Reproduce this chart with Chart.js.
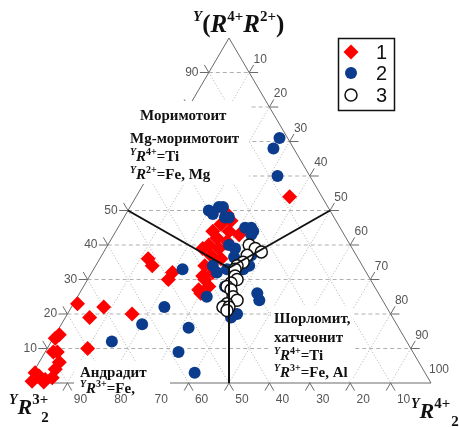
<!DOCTYPE html>
<html>
<head>
<meta charset="utf-8">
<script src="https://cdn.jsdelivr.net/npm/chart.js@4"></script>
<style>
  body { margin: 0; background: #fff; }
  #wrap { width: 459px; height: 427px; }
</style>
</head>
<body>
<div id="wrap"><canvas id="tern" width="459" height="427"></canvas></div>
<script>
// ternary values, % : top = Y(R4+R2+), right = YR4+2, left = YR3+2 = 100 - top - right
const s1Top   = [54, 49, 47, 46, 44, 43, 42, 41, 40, 39, 39, 37, 36, 34, 32, 31, 30, 28, 27, 26, 44,
                 36, 34, 32, 30, 23, 22, 19, 20, 14, 13, 10, 9, 9, 6, 4, 3, 2, 0.5, 1, 1.5, 0.3];
const s1Right = [38, 25, 27, 25, 28, 31, 26, 29, 25, 28, 24, 27, 30, 27, 30, 28, 29, 31, 29, 30, 24,
                 12, 14, 20, 20, 1, 8, 6, 16, 1, 0.5, 10, 2, 3, 5, 5, 0.5, 2, 1, 4, 5.5, 4];

const s2Top   = [71, 68, 60, 50, 51, 51, 48, 48, 49, 45, 45, 43, 44, 40, 39, 36.5, 35, 37, 34, 32, 28, 25,
                 33, 26, 24, 20, 19, 33, 22, 17, 12, 16, 9, 3, 34, 33];
const s2Right = [27, 27, 32, 20, 22, 23, 25, 26, 21.5, 31.5, 33, 34, 34, 30, 32, 33, 35, 37, 29, 31, 35, 32,
                 37, 44, 45.5, 42, 41, 22, 23, 20, 15, 32, 33, 40, 38, 33];

const s3Top   = [40, 39, 38, 37, 35, 34, 33, 31, 30, 29, 28, 27, 25, 24, 23, 22, 22, 21];
const s3Right = [35, 37, 39, 36, 36, 35, 35, 36, 37, 36, 35.5, 37, 38.5, 40, 38, 37.5, 39, 39];

const seriesNames = ['1', '2', '3'];
const gridValues = [10, 20, 30, 40, 50, 60, 70, 80, 90];
const rightLabels = [10, 20, 30, 40, 50, 60, 70, 80, 90, 100];
// field boundaries: edge midpoints [top, right] joined to the centre
const fieldEnds = [[50, 0], [50, 50], [0, 50]];
const fieldCentre = [100 / 3, 100 / 3];

const RED = '#ff0000';
const BLUE = '#0b3b8c';
const SERIF = '"Liberation Serif", "Times New Roman", serif';
const SANS = '"Liberation Sans", Arial, sans-serif';

function toXY(top, right) {
  return top.map((t, i) => ({ x: right[i] + t / 2, y: t }));
}

function rich(ctx, x, y, parts) {
  let cx = x;
  parts.forEach(p => {
    ctx.font = (p.i ? 'italic ' : '') + 'bold ' + p.s + 'px ' + SERIF;
    ctx.fillText(p.t, cx, y + (p.dy || 0));
    cx += ctx.measureText(p.t).width + (p.k || 0);
  });
}

const frame = {
  id: 'frame',
  beforeDatasetsDraw(chart) {
    const ctx = chart.ctx;
    const P = (t, r) => [chart.scales.x.getPixelForValue(r + t / 2), chart.scales.y.getPixelForValue(t)];
    const seg = (a, b) => {
      const p = P(a[0], a[1]), q = P(b[0], b[1]);
      ctx.beginPath(); ctx.moveTo(p[0], p[1]); ctx.lineTo(q[0], q[1]); ctx.stroke();
    };
    ctx.save();
    ctx.lineWidth = 1;
    const e = 2.2;
    gridValues.forEach(v => {
      ctx.strokeStyle = '#b0b0b0';
      ctx.setLineDash([4, 3]);
      seg([v, 0], [v, 100 - v]);
      ctx.setLineDash([1, 2]);
      seg([0, v], [100 - v, v]);
      seg([100 - v, 0], [0, 100 - v]);
      ctx.setLineDash([]);
      ctx.strokeStyle = '#6a6a6a';
      seg([v, 0], [v, -e]);
      seg([v, 100 - v], [v, 100 - v + e]);
      seg([0, v], [-e, v]);
      seg([100 - v, v], [100 - v + e, v]);
      seg([100 - v, 0], [100 - v + e, -e]);
      seg([0, 100 - v], [-e, 100 - v + e]);
    });
    ctx.strokeStyle = '#6a6a6a';
    seg([0, 0], [100, 0]);
    seg([100, 0], [0, 100]);
    seg([0, 100], [0, 0]);

    ctx.fillStyle = '#555';
    ctx.font = '12px ' + SANS;
    ctx.textAlign = 'center';
    ctx.textBaseline = 'middle';
    gridValues.forEach(v => {
      let p = P(v, 0);
      ctx.fillText(v, p[0] - 17, p[1]);
      p = P(0, 100 - v);
      ctx.fillText(v, p[0] + 13, p[1] + 17);
    });
    rightLabels.forEach(v => {
      const p = P(100 - v, v);
      ctx.fillText(v, p[0] + (v === 100 ? 8 : 11), p[1] - 13);
    });
    ctx.restore();
  },
  afterDatasetsDraw(chart) {
    const ctx = chart.ctx;
    const P = (t, r) => [chart.scales.x.getPixelForValue(r + t / 2), chart.scales.y.getPixelForValue(t)];
    ctx.save();
    ctx.strokeStyle = '#111';
    ctx.lineWidth = 2;
    const c = P(fieldCentre[0], fieldCentre[1]);
    fieldEnds.forEach(f => {
      const p = P(f[0], f[1]);
      ctx.beginPath(); ctx.moveTo(p[0], p[1]); ctx.lineTo(c[0], c[1]); ctx.stroke();
    });

    // white caption boxes
    ctx.fillStyle = '#fff';
    ctx.fillRect(124, 101, 125, 83);
    ctx.fillRect(74, 361, 96, 32);
    ctx.fillRect(271, 306, 82, 75);

    // field captions
    ctx.fillStyle = '#111';
    ctx.textAlign = 'left';
    ctx.textBaseline = 'alphabetic';
    const sup = (s) => ({ t: s, s: 10, dy: -6 });
    const ysup = { t: 'Y', s: 10, i: true, dy: -6 };
    const R = { t: 'R', s: 15, i: true };
    const w = (s) => ({ t: s, s: 15 });
    rich(ctx, 140, 120, [w('Моримотоит')]);
    rich(ctx, 130, 143, [w('Mg-моримотоит')]);
    rich(ctx, 130, 161, [ysup, R, sup('4+'), w('=Ti')]);
    rich(ctx, 130, 179, [ysup, R, sup('2+'), w('=Fe, Mg')]);
    rich(ctx, 80, 377, [w('Андрадит')]);
    rich(ctx, 80, 393, [ysup, R, sup('3+'), w('=Fe,')]);
    rich(ctx, 274, 323, [w('Шорломит,')]);
    rich(ctx, 274, 342, [w('хатчеонит')]);
    rich(ctx, 274, 360, [ysup, R, sup('4+'), w('=Ti')]);
    rich(ctx, 274, 377, [ysup, R, sup('3+'), w('=Fe, Al')]);

    // axis titles
    rich(ctx, 193, 32, [{ t: 'Y', s: 15, i: true, dy: -11 }, { t: '(', s: 25 }, { t: 'R', s: 25, i: true },
      { t: '4+', s: 15, dy: -11 }, { t: 'R', s: 25, i: true }, { t: '2+', s: 15, dy: -11 }, { t: ')', s: 25 }]);
    rich(ctx, 9, 414, [{ t: 'Y', s: 14, i: true, dy: -10 }, { t: 'R', s: 22, i: true },
      { t: '3+', s: 15, dy: -10, k: -7 }, { t: '2', s: 15, dy: 8 }]);
    rich(ctx, 411, 418, [{ t: 'Y', s: 14, i: true, dy: -10 }, { t: 'R', s: 22, i: true },
      { t: '4+', s: 15, dy: -10, k: 1 }, { t: '2', s: 15, dy: 8 }]);

    // legend
    ctx.lineWidth = 1.5;
    ctx.strokeStyle = '#111';
    ctx.strokeRect(338.5, 38.5, 56, 72);
    const lx = 351, ly = [52, 73, 95];
    ctx.fillStyle = RED;
    ctx.beginPath();
    ctx.moveTo(lx, ly[0] - 7.5); ctx.lineTo(lx + 7.5, ly[0]); ctx.lineTo(lx, ly[0] + 7.5); ctx.lineTo(lx - 7.5, ly[0]);
    ctx.closePath(); ctx.fill();
    ctx.fillStyle = BLUE;
    ctx.beginPath(); ctx.arc(lx, ly[1], 6, 0, Math.PI * 2); ctx.fill();
    ctx.fillStyle = '#fff';
    ctx.beginPath(); ctx.arc(lx, ly[2], 6, 0, Math.PI * 2); ctx.fill(); ctx.stroke();
    ctx.fillStyle = '#111';
    ctx.font = '20px ' + SANS;
    ctx.textBaseline = 'middle';
    seriesNames.forEach((n, i) => ctx.fillText(n, 376, ly[i] + 1));
    ctx.restore();
  }
};

new Chart(document.getElementById('tern'), {
  type: 'scatter',
  data: {
    datasets: [
      { label: seriesNames[0], data: toXY(s1Top, s1Right), order: 3, clip: false,
        pointStyle: 'rectRot', pointRadius: 7.5, backgroundColor: RED, borderColor: RED, borderWidth: 0 },
      { label: seriesNames[1], data: toXY(s2Top, s2Right), order: 2, clip: false,
        pointStyle: 'circle', pointRadius: 6, backgroundColor: BLUE, borderColor: BLUE, borderWidth: 0 },
      { label: seriesNames[2], data: toXY(s3Top, s3Right), order: 1, clip: false,
        pointStyle: 'circle', pointRadius: 6, backgroundColor: '#fff', borderColor: '#111', borderWidth: 1.5 }
    ]
  },
  options: {
    responsive: false,
    animation: false,
    layout: { padding: { left: 27, right: 28, top: 38, bottom: 44 } },
    scales: {
      x: { type: 'linear', min: 0, max: 100, display: false },
      y: { type: 'linear', min: 0, max: 100, display: false }
    },
    plugins: { legend: { display: false }, tooltip: { enabled: false } },
    events: []
  },
  plugins: [frame]
});
</script>
</body>
</html>
